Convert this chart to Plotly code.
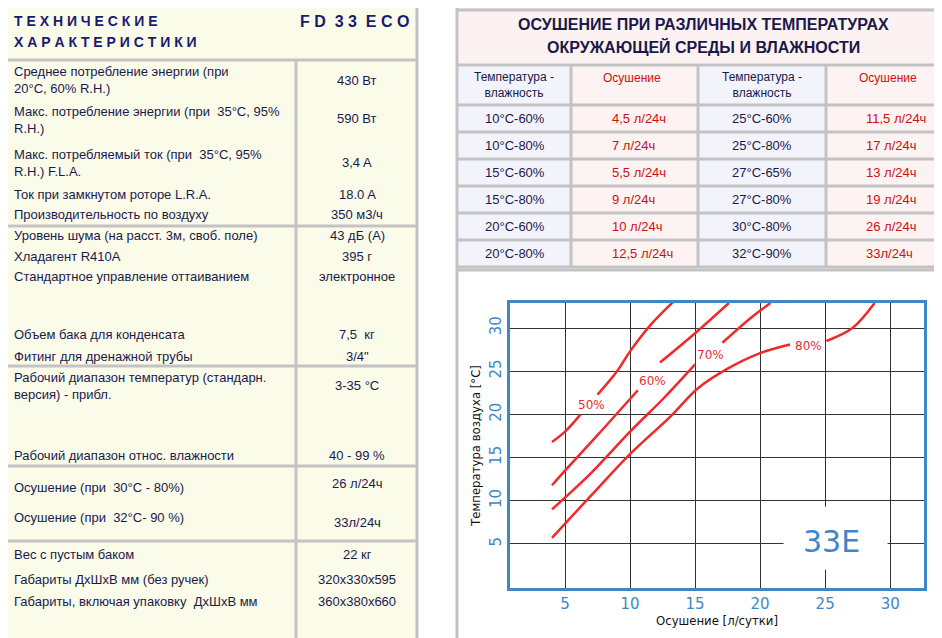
import plotly.graph_objects as go

W, H = 942, 638

# --- left table: technical characteristics ---
spec_labels = [
    "Среднее потребление энергии (при<br>20°C, 60% R.H.)",
    "Макс. потребление энергии (при  35°C, 95%<br>R.H.)",
    "Макс. потребляемый ток (при  35°C, 95%<br>R.H.) F.L.A.",
    "Ток при замкнутом роторе L.R.A.",
    "Производительность по воздуху",
    "Уровень шума (на расст. 3м, своб. поле)",
    "Хладагент R410A",
    "Стандартное управление оттаиванием",
    "Объем бака для конденсата",
    "Фитинг для дренажной трубы",
    "Рабочий диапазон температур (стандарн.<br>версия) - прибл.",
    "Рабочий диапазон относ. влажности",
    "Осушение (при  30°C - 80%)",
    "Осушение (при  32°C- 90 %)",
    "Вес с пустым баком",
    "Габариты ДхШхВ мм (без ручек)",
    "Габариты, включая упаковку  ДхШхВ мм",
]
spec_values = ["430 Вт", "590 Вт", "3,4 A", "18.0 A", "350 м3/ч", "43 дБ (А)", "395 г",
               "электронное", "7,5  кг", "3/4\"", "3-35 °C", "40 - 99 %", "26 л/24ч",
               "33л/24ч", "22 кг", "320x330x595", "360x380x660"]
spec_label_y = [72, 112, 155, 186, 207, 228, 248, 269, 326, 348, 378, 447, 479, 510, 546, 571, 593]
spec_value_y = [72, 111, 154, 186, 207, 228, 248, 269, 326, 348, 377, 447, 475, 514, 546, 571, 593]
spec_separators = [52, 218, 358, 458, 533]

# --- right table: drying at various temperatures / humidity ---
cond_left = ["10°C-60%", "10°C-80%", "15°C-60%", "15°C-80%", "20°C-60%", "20°C-80%"]
dry_left = ["4,5 л/24ч", "7 л/24ч", "5,5 л/24ч", "9 л/24ч", "10 л/24ч", "12,5 л/24ч"]
cond_right = ["25°C-60%", "25°C-80%", "27°C-65%", "27°C-80%", "30°C-80%", "32°C-90%"]
dry_right = ["11,5 л/24ч", "17 л/24ч", "13 л/24ч", "19 л/24ч", "26 л/24ч", "33л/24ч"]

# --- chart: drying vs air temperature per humidity (None = gap for label) ---
rh_labels = ["50%", "60%", "70%", "80%"]
curve_x = [
    [4, 5, 6.2, None, 7.5, 9, 10, 11.6, 13.3],
    [4, 5, 7.5, 10.6, None, 12.3, 15, 17.6],
    [4, 7, 10, 12.6, 15, None, 17.1, 19.3, 20.8],
    [4, 7, 10, 13.2, 15.2, 17.5, 20, 22.3, None, 25.1, 27.1, 28.8],
]
curve_y = [
    [16.8, 18, 20, None, 22.3, 25, 27.3, 30.4, 33],
    [11.8, 13.5, 17.6, 22.8, None, 26, 29.4, 32.9],
    [9, 13.2, 18, 21.9, 25.8, None, 28.3, 31.2, 32.9],
    [5.7, 10.6, 15.4, 19.9, 23, 25.3, 27.1, 28.1, None, 28.5, 30, 32.9],
]
label_x = [7, 11.7, 16.2, 23.7]
label_y = [21.1, 23.9, 26.9, 27.9]

NAVY = "#1a1a4a"
RED = "#cc1010"
GRAY = "#c3c3c3"
BLUE = "#3f88c8"
FONT = "Liberation Sans, Arial"


def px(x):
    return x / W


def py(y):
    return 1 - y / H


shapes = []
annots = []


def rect(x0, y0, x1, y1, fill):
    shapes.append(dict(type="rect", xref="paper", yref="paper",
                       x0=px(x0), x1=px(x1), y0=py(y1), y1=py(y0),
                       fillcolor=fill, line=dict(width=0), layer="below"))


def hline(x0, x1, y, width=3):
    shapes.append(dict(type="line", xref="paper", yref="paper",
                       x0=px(x0), x1=px(x1), y0=py(y), y1=py(y),
                       line=dict(color=GRAY, width=width), layer="below"))


def vline(x, y0, y1, width=3):
    shapes.append(dict(type="line", xref="paper", yref="paper",
                       x0=px(x), x1=px(x), y0=py(y0), y1=py(y1),
                       line=dict(color=GRAY, width=width), layer="below"))


def text(x, y, s, color=NAVY, size=13, anchor="left", bold=False):
    annots.append(dict(xref="paper", yref="paper", x=px(x), y=py(y), text=s,
                       showarrow=False, xanchor=anchor, yanchor="middle", align=anchor,
                       font=dict(family=FONT, size=size, color=color,
                                 weight="bold" if bold else "normal")))


# left panel
rect(0, 0, 409, 638, "#fbfbea")
vline(409, 0, 638)
vline(288, 52, 638)
for y in spec_separators:
    hline(0, 409, y)
text(4, 13, "Т Е Х Н И Ч Е С К И Е", size=14, bold=True, color="#1a1a6e")
text(4, 34, "Х А Р А К Т Е Р И С Т И К И", size=14, bold=True, color="#1a1a6e")
text(403, 13, "F D  3 3  E C O", size=16, bold=True, color="#1a1a6e", anchor="right")
for lab, val, ly, vy in zip(spec_labels, spec_values, spec_label_y, spec_value_y):
    text(4, ly, lab)
    text(349, vy, val, anchor="center")

# right table
cols = [449, 563, 690, 818, 942]
rows = [58, 97, 124, 151, 178, 205, 232, 259]
rect(449, 0, 942, 56, "#fdf2f2")
for i in range(4):
    rect(cols[i], 58, cols[i + 1], 259, "#f3f3fb" if i % 2 == 0 else "#fdf3f3")
hline(449, 942, 2)
hline(449, 942, 57)
for c in cols[1:-1]:
    vline(c, 57, 260)
vline(449, 0, 638)
for r in rows[1:]:
    hline(449, 942, r)
hline(449, 942, 262)
text(695, 17, "ОСУШЕНИЕ ПРИ РАЗЛИЧНЫХ ТЕМПЕРАТУРАХ", size=16, bold=True, anchor="center")
text(695, 39, "ОКРУЖАЮЩЕЙ СРЕДЫ И ВЛАЖНОСТИ", size=16, bold=True, anchor="center")
text(506, 77, "Температура -<br>влажность", size=12, anchor="center")
text(624, 70, "Осушение", size=12, color=RED, anchor="center")
text(754, 77, "Температура -<br>влажность", size=12, anchor="center")
text(880, 70, "Осушение", size=12, color=RED, anchor="center")
for i in range(6):
    yc = (rows[i + 1] + rows[i + 2]) / 2
    text(507, yc, cond_left[i], anchor="center")
    text(602, yc, dry_left[i], color=RED)
    text(754, yc, cond_right[i], anchor="center")
    text(856, yc, dry_right[i], color=RED)

# chart marks in data coordinates
for lab, lx, ly in zip(rh_labels, label_x, label_y):
    annots.append(dict(xref="x", yref="y", x=lx, y=ly, text=lab, showarrow=False,
                       font=dict(family="DejaVu Sans", size=12, color="#e03030", weight="normal")))
shapes.append(dict(type="rect", xref="x", yref="y", x0=21.8, x1=29.8, y0=2, y1=9.3,
                   fillcolor="white", line=dict(width=0), layer="above"))
annots.append(dict(xref="x", yref="y", x=25.5, y=5.3, text="33E", showarrow=False,
                   font=dict(family="DejaVu Sans", size=30, color=BLUE)))

traces = []
for cx, cy in zip(curve_x, curve_y):
    traces.append(go.Scatter(x=cx, y=cy, mode="lines", connectgaps=False,
                             line=dict(color="#ee2a2a", width=2.5, shape="spline"),
                             showlegend=False, hoverinfo="skip"))

axis_common = dict(tickvals=[5, 10, 15, 20, 25, 30], showgrid=True, gridcolor="#333333",
                   gridwidth=1, zeroline=False, showline=True, mirror=True,
                   linecolor=BLUE, linewidth=3,
                   tickfont=dict(family="DejaVu Sans", size=15, color=BLUE))
title_font = dict(family="DejaVu Sans Condensed, DejaVu Sans", size=13, color="#111")

fig = go.Figure(data=traces, layout=dict(
    width=W, height=H, margin=dict(l=0, r=0, t=0, b=0),
    paper_bgcolor="white", plot_bgcolor="white",
    shapes=shapes, annotations=annots,
    xaxis=dict(domain=[px(502), px(916)], range=[0.77, 32.6],
               title=dict(text="Осушение [л/сутки]", standoff=4, font=title_font),
               **axis_common),
    yaxis=dict(domain=[py(580), py(295)], range=[-0.1, 32.9], tickangle=-90,
               title=dict(text="Температура воздуха [°C]", standoff=4, font=title_font),
               **axis_common),
))

fig.write_html("out.html")
